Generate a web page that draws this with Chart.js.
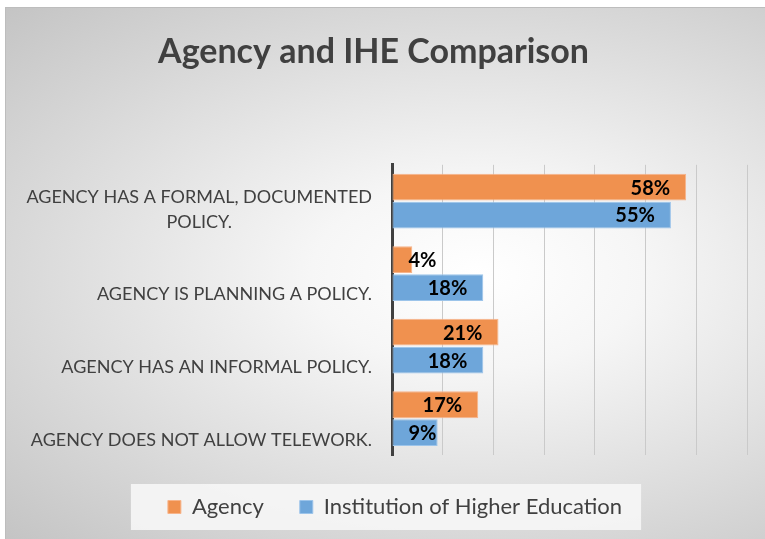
<!DOCTYPE html>
<html>
<head>
<meta charset="utf-8">
<script src="https://cdn.jsdelivr.net/npm/chart.js@4"></script>
<style>
  html, body { margin: 0; padding: 0; background: #fff; }
  #bg {
    position: absolute; left: 5px; top: 7px; width: 760px; height: 532px;
    border-left: 1px solid #bdbdbd; border-top: 1px solid #bdbdbd;
    background: radial-gradient(ellipse farthest-corner at 62% 50%, #ffffff 0%, #f6f6f6 25%, #c4c4c4 100%);
  }
  #wrap { position: absolute; left: 0; top: 0; width: 765px; height: 539px; }
</style>
</head>
<body>
<div id="bg"></div>
<div id="wrap"><canvas id="myChart"></canvas></div>
<script>
"use strict";

// data
const categories = [
  ['AGENCY HAS A FORMAL, DOCUMENTED', 'POLICY.'],
  ['AGENCY IS PLANNING A POLICY.'],
  ['AGENCY HAS AN INFORMAL POLICY.'],
  ['AGENCY DOES NOT ALLOW TELEWORK.']
]
const agency = [58, 4, 21, 17]
const ihe = [55, 18, 18, 9]
const seriesNames = ['Agency', 'Institution of Higher Education']

const FONT = 'Lato, "Open Sans", sans-serif'
const TEXT = '#404040'

// category labels: multi-line block right aligned, lines centred inside it
const catLabels = {
  id: 'catLabels',
  afterDraw(chart) {
    const ctx = chart.ctx
    const y = chart.scales.y
    ctx.save()
    ctx.font = '18px ' + FONT
    ctx.fillStyle = TEXT
    ctx.textAlign = 'center'
    ctx.textBaseline = 'middle'
    const right = chart.chartArea.left - 20
    const lh = 25
    categories.forEach((lines, i) => {
      const c = y.getPixelForTick(i)
      const w = Math.max(...lines.map(l => ctx.measureText(l).width))
      const cx = right - w / 2
      lines.forEach((l, k) => {
        ctx.fillText(l, cx, c + 21 - (lines.length - 1 - k) * lh)
      })
    })
    ctx.restore()
  }
}

// value labels at the inside end of each bar
const valueLabels = {
  id: 'valueLabels',
  afterDatasetsDraw(chart) {
    const ctx = chart.ctx
    ctx.save()
    ctx.font = 'bold 20px ' + FONT
    ctx.fillStyle = '#000'
    ctx.textAlign = 'right'
    ctx.textBaseline = 'middle'
    chart.data.datasets.forEach((ds, di) => {
      chart.getDatasetMeta(di).data.forEach((bar, i) => {
        const t = ds.data[i] + '%'
        const w = ctx.measureText(t).width
        const x = Math.max(bar.x - 16, bar.base + 16 + w)
        ctx.fillText(t, x, bar.y + 1)
      })
    })
    ctx.restore()
  }
}

// light box behind the legend, and nudge legend right
const legendBox = {
  id: 'legendBox',
  afterLayout(chart) {
    chart.legend.left += 43
  },
  beforeDraw(chart) {
    const hb = chart.legend.legendHitBoxes
    if (!hb || !hb.length) return
    const last = hb[hb.length - 1]
    const x0 = hb[0].left - 37
    const x1 = last.left + last.width + 19
    const cy = hb[0].top + hb[0].height / 2
    const ctx = chart.ctx
    ctx.save()
    ctx.fillStyle = 'rgba(246,246,246,0.9)'
    ctx.fillRect(x0, cy - 23, x1 - x0, 46)
    ctx.restore()
  }
}

const config = {
  type: 'bar',
  data: {
    labels: categories.map(l => l.join(' ')),
    datasets: [{
      label: seriesNames[0],
      data: agency,
      backgroundColor: '#f0914f',
      borderColor: '#f7b48a',
      borderWidth: 1,
      borderSkipped: false
    }, {
      label: seriesNames[1],
      data: ihe,
      backgroundColor: '#6ea6da',
      borderColor: '#9cc4ea',
      borderWidth: 1,
      borderSkipped: false
    }]
  },
  options: {
    indexAxis: 'y',
    responsive: false,
    animation: false,
    layout: { padding: { left: 0, right: 18, top: 0, bottom: 11 } },
    datasets: { bar: { categoryPercentage: 0.77, barPercentage: 0.96 } },
    scales: {
      x: {
        min: 0, max: 70,
        ticks: { display: false, stepSize: 10 },
        grid: { color: '#cacaca', lineWidth: 1, drawTicks: false },
        border: { display: false },
        afterFit(s) { s.height = 5 }
      },
      y: {
        ticks: { display: false },
        grid: { display: false, drawTicks: false },
        border: { display: true, color: '#404040', width: 3 },
        afterFit(s) { s.width = 392 }
      }
    },
    plugins: {
      title: {
        display: true,
        text: 'Agency and IHE Comparison',
        color: TEXT,
        font: { family: FONT, size: 34, weight: 'bold' },
        padding: { top: 32, bottom: 92 }
      },
      legend: {
        position: 'bottom',
        labels: {
          color: TEXT,
          font: { family: FONT, size: 22 },
          boxWidth: 13, boxHeight: 13,
          padding: 36
        }
      },
      tooltip: { enabled: false }
    }
  },
  plugins: [catLabels, valueLabels, legendBox]
}

const canvas = document.getElementById('myChart')
canvas.width = 765
canvas.height = 539
const my_chart = new Chart(canvas, config)
</script>
</body>
</html>
